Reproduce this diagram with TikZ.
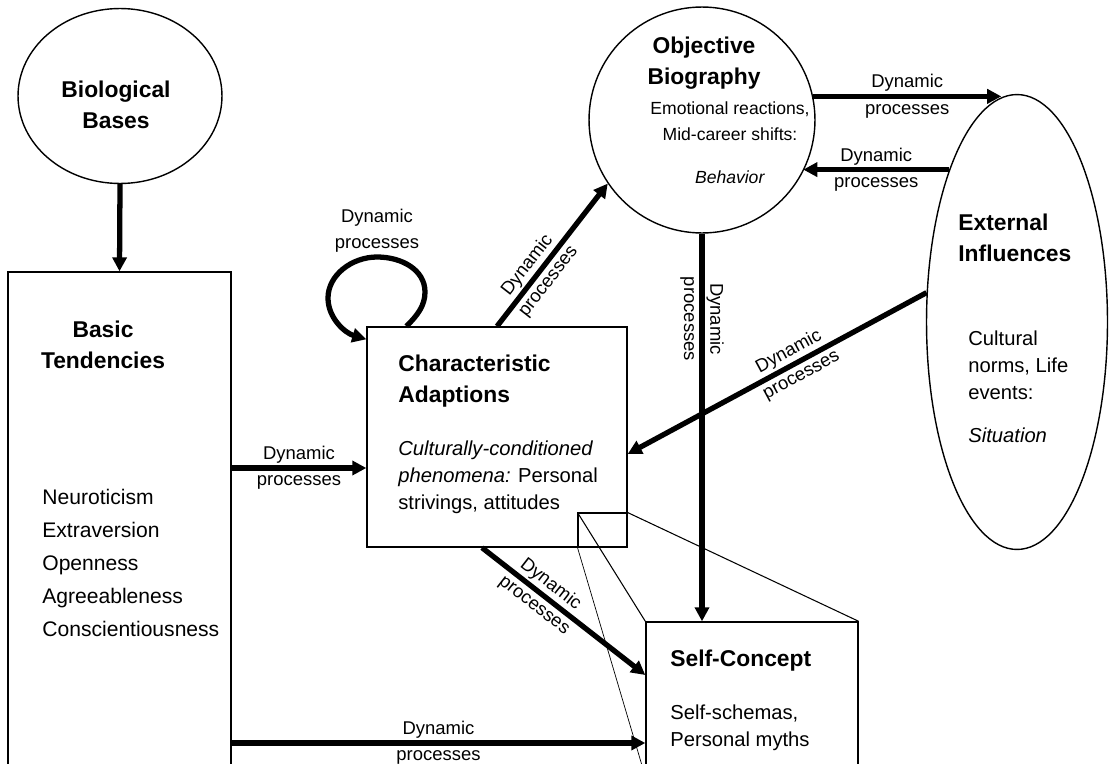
\documentclass[tikz,border=0pt]{standalone}
\usepackage{fontspec}
\setmainfont{Liberation Sans}
\usetikzlibrary{arrows.meta, shapes.geometric, calc}

\begin{document}
\begin{tikzpicture}[x=0.02cm, y=-0.02cm, >={Triangle[length=8pt,width=8pt]},
  box/.style={draw, rectangle, line width=0.8pt, inner sep=0pt},
  oval/.style={draw, ellipse, line width=0.8pt, inner sep=0pt},
  title/.style={font=\fontsize{13}{17.5}\selectfont\bfseries, inner sep=0pt},
  body/.style={font=\fontsize{11.5}{15.5}\selectfont, inner sep=0pt, align=left},
  dyn/.style={font=\fontsize{10.5}{15}\selectfont, align=center, inner sep=1pt},
  conn/.style={->, line width=3pt}]

\useasboundingbox (0,0) rectangle (1109,764);
\clip (0,0) rectangle (1109,764);

% define the shapes
  \node[oval, minimum width=4.08cm, minimum height=3.5cm] (bio) at (120,96) {};
  \node[box, minimum width=4.46cm, minimum height=10.08cm] (basic) at (119.5,524) {};
  \node[box, minimum width=5.2cm, minimum height=4.4cm] (char) at (497,437) {};
  \node[box, minimum width=4.24cm, minimum height=3.08cm] (self) at (752,699) {};
  \node[draw, circle, line width=0.8pt, minimum size=4.52cm, inner sep=0pt] (obj) at (702,120) {};
  \node[oval, minimum width=3.62cm, minimum height=9.1cm] (ext) at (1017,322) {};
  \node[box, line width=0.6pt, minimum width=0.98cm, minimum height=0.68cm] (zoomsq) at (602.5,530) {};

% define the texts
  \node[title, align=center] (biotxt) at (116,105) {Biological\\Bases};
  \node[title, align=center, anchor=north] (basictxt) at (103,321) {Basic\\Tendencies};
  \node[body, font=\fontsize{12}{18.7}\selectfont, anchor=north west] (traits) at (42,489)
    {Neuroticism\\Extraversion\\Openness\\Agreeableness\\Conscientiousness};
  \node[title, align=left, anchor=north west] (chartxt) at (398,354.5) {Characteristic\\Adaptions};
  \node[body, anchor=north west] (charbody) at (398,440.5)
    {\textit{Culturally-conditioned}\\\textit{phenomena:} Personal\\strivings, attitudes};
  \node[title, anchor=north west] (selftxt) at (670,649.5) {Self-Concept};
  \node[body, anchor=north west] (selfbody) at (670,704.5) {Self-schemas,\\Personal myths};
  \node[title, align=center, anchor=north] (objtxt) at (704,36.5) {Objective\\Biography};
  \node[font=\fontsize{10}{15}\selectfont, align=center, inner sep=0pt, anchor=north] (objbody) at (730,101.5)
    {Emotional reactions,\\Mid-career shifts:\\[9pt]\textit{Behavior}};
  \node[title, align=left, anchor=north west] (exttxt) at (958,213.5) {External\\Influences};
  \node[body, anchor=north west] (extbody) at (968,330.5)
    {Cultural\\norms, Life\\events:\\[8.5pt]\textit{Situation}};

% define the zoom lines
  \draw[line width=0.6pt] (zoomsq.north west) -- (self.north west);
  \draw[line width=0.6pt] (zoomsq.north east) -- (self.north east);
  \draw[line width=0.4pt] (zoomsq.south west) -- (self.south west);

% define the links
  \coordinate (cw) at ($(char.west)+(0,31)$);
  \coordinate (sw) at ($(self.west)+(0,44)$);
  \coordinate (ce) at ($(char.east)+(0,17)$);
  \coordinate (cs) at ($(char.south)+(-15,0)$);
  \coordinate (sn) at ($(self.west)+(0,-24)$);

  \draw[conn] (bio.south) -- (basic.north);
  \draw[conn] (basic.east |- cw) -- node[dyn] {Dynamic\\processes} (cw);
  \draw[conn] (basic.east |- sw) -- node[dyn] {Dynamic\\processes} (sw);
  \draw[conn] (char.north) -- node[dyn, sloped, pos=0.37] {Dynamic\\processes} (obj.214);
  \draw[conn] (cs) -- node[dyn, sloped, pos=0.37] {Dynamic\\processes} (sn);
  \draw[conn] (obj.south) -- node[dyn, sloped, pos=0.22] {Dynamic\\processes} (obj.south |- self.north);
  \draw[conn] (obj.12) -- node[dyn] {Dynamic\\processes} (obj.12 -| ext.94);
  \draw[conn] (ext.114) -- node[dyn] {Dynamic\\processes} (ext.114 -| obj.-27);
  \draw[conn] (ext.162) -- node[dyn, sloped, pos=0.44] {Dynamic\\processes} (ce);
  \draw[conn] ($(char.north west)+(40,0)$) .. controls (418,315) and (425,305) .. (425,292)
    .. controls (425,270) and (402,257) .. (377,257) node[dyn, above] {Dynamic\\processes}
    .. controls (352,257) and (328,275) .. (328,298)
    .. controls (328,318) and (345,333) .. ($(char.north west)+(0,13)$);

\end{tikzpicture}
\end{document}
